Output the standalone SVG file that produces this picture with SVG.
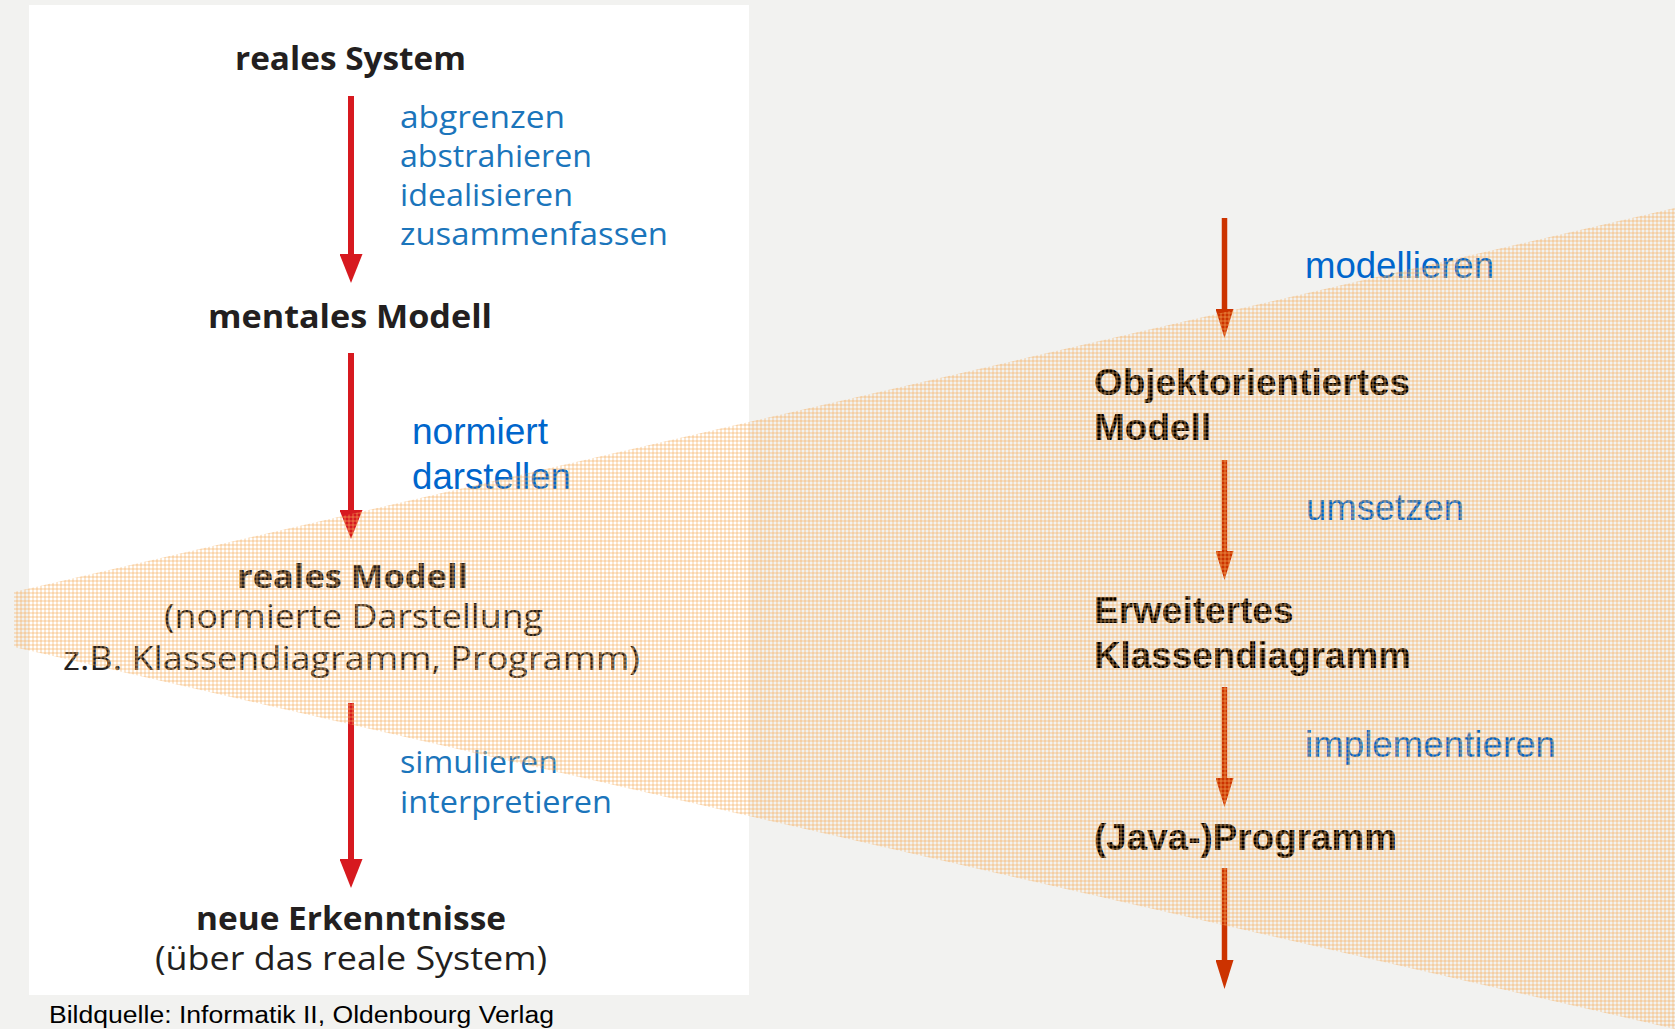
<svg xmlns="http://www.w3.org/2000/svg" width="1675" height="1029" viewBox="0 0 1675 1029">
  <style>
    .lt { font-family: "Open Sans", "Noto Sans", sans-serif; fill: #231f20; font-size: 32px; }
    .lb { font-weight: 700; }
    .lblue { font-family: "Open Sans", "Noto Sans", sans-serif; fill: #1b75bb; font-size: 31px; }
    .ablue { font-family: "Liberation Sans", Arial, sans-serif; fill: #0066cc; font-size: 36px; }
    .rt { font-family: "Liberation Sans", Arial, sans-serif; fill: #000000; font-size: 37px; font-weight: 700; }
    .src { font-family: "Liberation Sans", Arial, sans-serif; fill: #000000; font-size: 23px; }
    .redline { stroke: #d7191f; stroke-width: 6; fill: none; }
    .orline { stroke: #cc3300; stroke-width: 5.5; fill: none; }
  </style>
  <defs>
    <marker id="headRed" markerUnits="userSpaceOnUse" markerWidth="29" markerHeight="23" viewBox="0 0 29 23" refX="0" refY="11.5" orient="auto">
      <path d="M0,0 L29,11.5 L0,23 z" fill="#d7191f"/>
    </marker>
    <marker id="headOr" markerUnits="userSpaceOnUse" markerWidth="29" markerHeight="18" viewBox="0 0 29 18" refX="0" refY="9" orient="auto">
      <path d="M0,0 L29,9 L0,18 z" fill="#cc3300"/>
    </marker>
    <pattern id="grid" patternUnits="userSpaceOnUse" width="4" height="4">
      <rect x="0" y="0" width="4" height="2" fill="#f7ae5a" fill-opacity="0.3"/>
      <rect x="0" y="0" width="2" height="4" fill="#f7ae5a" fill-opacity="0.3"/>
    </pattern>
  </defs>

  <rect x="0" y="0" width="1675" height="1029" fill="#f2f2f0"/>
  <rect x="29" y="5" width="720" height="990" fill="#ffffff"/>

  <g id="node-reales-system">
    <text class="lt lb" x="235" y="70" textLength="231" lengthAdjust="spacingAndGlyphs">reales System</text>
  </g>
  <g id="label-abgrenzen">
    <text class="lblue" x="400" y="128" textLength="165" lengthAdjust="spacingAndGlyphs">abgrenzen</text>
    <text class="lblue" x="400" y="167" textLength="192" lengthAdjust="spacingAndGlyphs">abstrahieren</text>
    <text class="lblue" x="400" y="206" textLength="173" lengthAdjust="spacingAndGlyphs">idealisieren</text>
    <text class="lblue" x="400" y="245" textLength="268" lengthAdjust="spacingAndGlyphs">zusammenfassen</text>
  </g>
  <g id="node-mentales-modell">
    <text class="lt lb" x="208" y="328" textLength="284" lengthAdjust="spacingAndGlyphs">mentales Modell</text>
  </g>
  <g id="label-normiert">
    <text class="ablue" x="412" y="444" textLength="136" lengthAdjust="spacingAndGlyphs">normiert</text>
    <text class="ablue" x="412" y="489" textLength="159" lengthAdjust="spacingAndGlyphs">darstellen</text>
  </g>
  <g id="node-reales-modell">
    <text class="lt lb" x="237" y="588" textLength="231" lengthAdjust="spacingAndGlyphs">reales Modell</text>
    <text class="lt" x="164" y="628" textLength="379" lengthAdjust="spacingAndGlyphs">(normierte Darstellung</text>
    <text class="lt" x="63" y="670" textLength="577" lengthAdjust="spacingAndGlyphs">z.B. Klassendiagramm, Programm)</text>
  </g>
  <g id="label-simulieren">
    <text class="lblue" x="400" y="773" textLength="158" lengthAdjust="spacingAndGlyphs">simulieren</text>
    <text class="lblue" x="400" y="813" textLength="212" lengthAdjust="spacingAndGlyphs">interpretieren</text>
  </g>
  <g id="node-neue-erkenntnisse">
    <text class="lt lb" x="196" y="930" textLength="310" lengthAdjust="spacingAndGlyphs">neue Erkenntnisse</text>
    <text class="lt" x="155" y="970" textLength="392" lengthAdjust="spacingAndGlyphs">(über das reale System)</text>
  </g>

  <g id="label-modellieren">
    <text class="ablue" x="1305" y="278" textLength="189" lengthAdjust="spacingAndGlyphs">modellieren</text>
  </g>
  <g id="node-oo-modell">
    <text class="rt" x="1094" y="395" textLength="316" lengthAdjust="spacingAndGlyphs">Objektorientiertes</text>
    <text class="rt" x="1094" y="440">Modell</text>
  </g>
  <g id="label-umsetzen">
    <text class="ablue" x="1306" y="520" textLength="158" lengthAdjust="spacingAndGlyphs">umsetzen</text>
  </g>
  <g id="node-klassendiagramm">
    <text class="rt" x="1094" y="623">Erweitertes</text>
    <text class="rt" x="1094" y="668" textLength="317" lengthAdjust="spacingAndGlyphs">Klassendiagramm</text>
  </g>
  <g id="label-implementieren">
    <text class="ablue" x="1305" y="757" textLength="251" lengthAdjust="spacingAndGlyphs">implementieren</text>
  </g>
  <g id="node-programm">
    <text class="rt" x="1094" y="850" textLength="303" lengthAdjust="spacingAndGlyphs">(Java-)Programm</text>
  </g>

  <g id="connectors">
    <line class="redline" x1="351" y1="96" x2="351" y2="254" marker-end="url(#headRed)"/>
    <line class="redline" x1="351" y1="353" x2="351" y2="510" marker-end="url(#headRed)"/>
    <line class="redline" x1="351" y1="703" x2="351" y2="859" marker-end="url(#headRed)"/>
    <line class="orline" x1="1224.5" y1="218" x2="1224.5" y2="309" marker-end="url(#headOr)"/>
    <line class="orline" x1="1224.5" y1="460" x2="1224.5" y2="551" marker-end="url(#headOr)"/>
    <line class="orline" x1="1224.5" y1="687" x2="1224.5" y2="778" marker-end="url(#headOr)"/>
    <line class="orline" x1="1224.5" y1="868" x2="1224.5" y2="960" marker-end="url(#headOr)"/>
  </g>

  <polygon id="wedge" points="14,592 1675,208 1675,1029 14,647" fill="url(#grid)"/>

  <text class="src" x="49" y="1023" textLength="505" lengthAdjust="spacingAndGlyphs">Bildquelle: Informatik II, Oldenbourg Verlag</text>
</svg>
